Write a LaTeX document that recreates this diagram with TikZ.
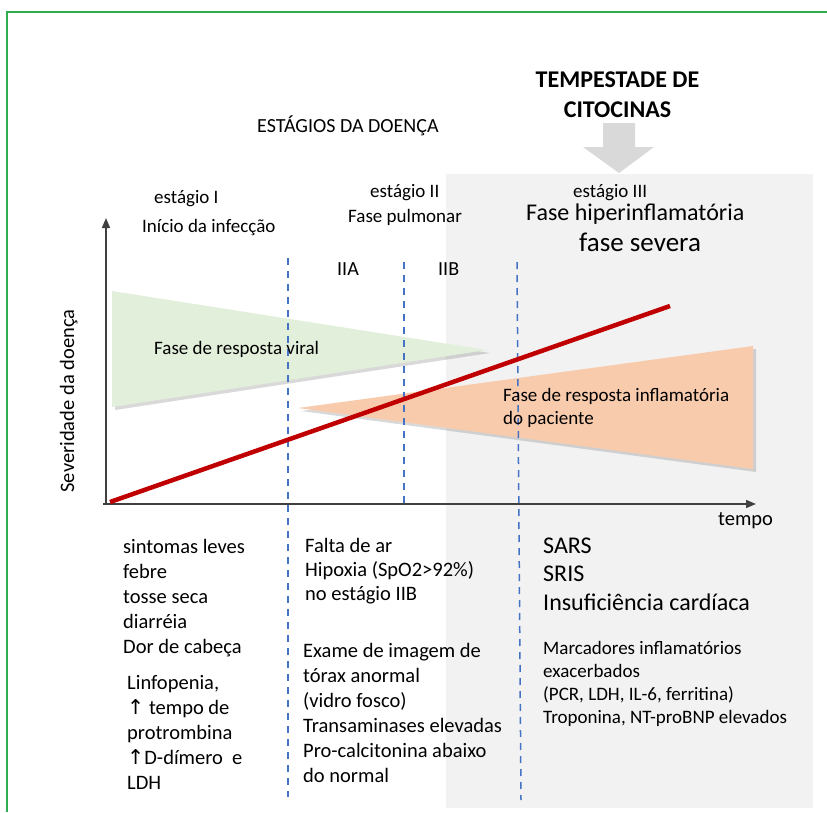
\documentclass[tikz,border=0pt]{standalone}
\usepackage{fontspec}
\setmainfont{Carlito}
\newfontfamily\arrowfont{DejaVu Sans}
\usetikzlibrary{arrows.meta,shadows}
\definecolor{framegreen}{HTML}{2EAE4E}
\definecolor{bggray}{HTML}{F2F2F2}
\definecolor{arrowgray}{HTML}{D9D9D9}
\definecolor{viralgreen}{HTML}{E2EFDA}
\definecolor{inflorange}{HTML}{F8CBAD}
\definecolor{dashblue}{HTML}{4472C4}
\definecolor{sevred}{HTML}{C00000}
\definecolor{axisgray}{HTML}{404040}
\newcommand{\upar}{{\arrowfont\char"2191}}
\tikzset{
  txt/.style={anchor=base west,inner sep=0pt,text=black},
  fs/.style={font=\fontsize{#1}{#1}\selectfont},
  stageline/.style={draw=dashblue,line width=1.5pt,dash pattern=on 7pt off 6pt},
  axisline/.style={draw=axisgray,line width=1.6pt,-{Triangle[length=10pt,width=8pt]}},
  tri/.style={drop shadow={shadow xshift=3pt,shadow yshift=-3pt,opacity=0.3}}
}
\begin{document}
\begin{tikzpicture}[x=1pt,y=-1pt]
\useasboundingbox (0,0) rectangle (827,812);
% frame
\draw[framegreen,line width=1.4pt] (827,12) -- (7,12) -- (7,812);
% stage III background
\fill[bggray] (446,174) rectangle (813,808);
% block arrow
\fill[arrowgray] (603,123) -- (635,123) -- (635,147) -- (654,147) -- (619,173) -- (583,147) -- (603,147) -- cycle;
% titles
\node[anchor=base,inner sep=0pt,font=\fontsize{24}{24}\selectfont\bfseries] (tempest) at (617.5,87) {TEMPESTADE DE};
\node[anchor=base,inner sep=0pt,font=\fontsize{24}{24}\selectfont\bfseries] (citoc) at (617.5,117) {CITOCINAS};
\node[txt,fs=20] (estagios) at (257,132) {ESTÁGIOS DA DOENÇA};
\node[txt,fs=19] (s1a) at (154,203) {estágio I};
\node[txt,fs=19] (s1b) at (142,232) {Início da infecção};
\node[txt,fs=19] (s2a) at (370,197) {estágio II};
\node[txt,fs=19] (s2b) at (348,222) {Fase pulmonar};
\node[txt,fs=19] (s3a) at (573,197) {estágio III};
\node[txt,fs=24] (s3b) at (526,220) {Fase hiperinflamatória};
\node[txt,fs=27] (s3c) at (579,251) {fase severa};
\node[txt,fs=20] (iia) at (337,275) {IIA};
\node[txt,fs=20] (iib) at (438,275) {IIB};
% triangles
\fill[viralgreen,tri] (112,291) -- (112,407) -- (487,350) -- cycle;
\fill[inflorange,tri] (298,408) -- (753,346) -- (753,469) -- cycle;
% dashed stage lines
\coordinate (d1t) at (288,258); \coordinate (d1b) at (288,797);
\coordinate (d2t) at (404,262); \coordinate (d2b) at (404,504);
\coordinate (d3t) at (517,262); \coordinate (d3b) at (521,800);
\draw[stageline] (d1t) -- (d1b);
\draw[stageline] (d2t) -- (d2b);
\draw[stageline] (d3t) -- (d3b);
% axes
\coordinate (origin) at (106,504);
\coordinate (ytip) at (106,218);
\coordinate (xstart) at (103,504);
\coordinate (xtip) at (756,504);
\draw[axisline] (origin) -- (ytip);
\draw[axisline] (xstart) -- (xtip);
% severity line
\coordinate (rs) at (110,502);
\coordinate (re) at (670,306);
\draw[sevred,line width=4.5pt] (rs) -- (re);
% labels in plot
\node[txt,fs=19] (viral) at (154,354) {Fase de resposta viral};
\node[txt,fs=19] (infl1) at (503,401) {Fase de resposta inflamatória};
\node[txt,fs=19] (infl2) at (503,424) {do paciente};
\node[txt,fs=20.5] (tempo) at (718,525) {tempo};
\node[anchor=base,inner sep=0pt,rotate=90,font=\fontsize{20.5}{20.5}\selectfont] (sev) at (74,401) {Severidade da doença};
% column 1
\foreach \t [count=\i] in {sintomas leves,febre,tosse seca,diarréia,Dor de cabeça}
  \node[txt,fs=20.5] (ca\i) at (123,553+25*\i-25) {\t};
\foreach \t [count=\i] in {{Linfopenia,},{\upar} tempo de,protrombina,{\upar}D-dímero\ \ e,LDH}
  \node[txt,fs=20.5] (cb\i) at (127,689+25*\i-25) {\t};
% column 2
\foreach \t [count=\i] in {Falta de ar,Hipoxia (SpO2>92\%),no estágio IIB}
  \node[txt,fs=20.5] (da\i) at (305,552+24*\i-24) {\t};
\foreach \t [count=\i] in {Exame de imagem de,tórax anormal,(vidro fosco),Transaminases elevadas,Pro-calcitonina abaixo,do normal}
  \node[txt,fs=20.5] (db\i) at (303,657+25*\i-25) {\t};
% column 3
\foreach \t [count=\i] in {SARS,SRIS,Insuficiência cardíaca}
  \node[txt,fs=24] (ea\i) at (543,553+28.5*\i-28.5) {\t};
\foreach \t [count=\i] in {Marcadores inflamatórios,exacerbados,{(PCR, LDH, IL-6, ferritina)},{Troponina, NT-proBNP elevados}}
  \node[txt,fs=19] (eb\i) at (543,654+23*\i-23) {\t};
\end{tikzpicture}
\end{document}
